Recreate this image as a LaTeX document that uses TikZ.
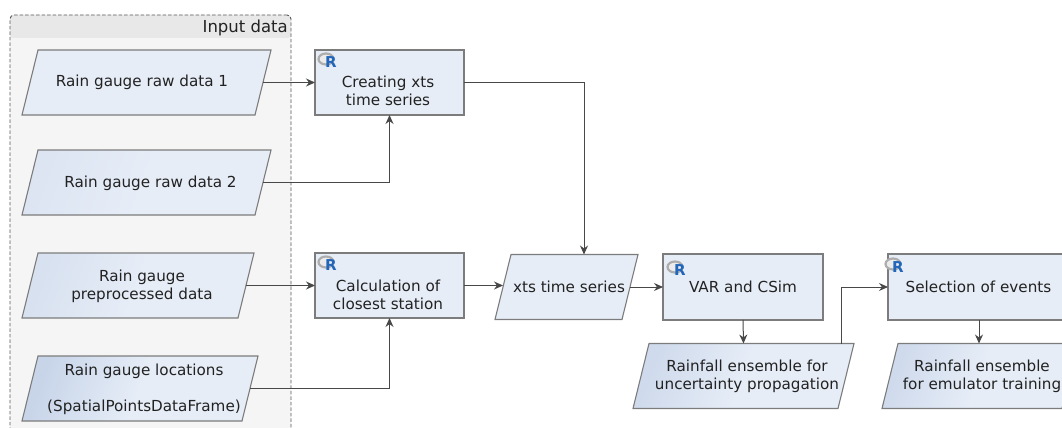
\documentclass[tikz,border=0pt]{standalone}
\usepackage{fontspec}
\setmainfont{DejaVu Sans}
\usetikzlibrary{arrows.meta,shapes.geometric}
\definecolor{shapefill}{HTML}{E6EDF7}
\definecolor{shapeline}{HTML}{7C7C7C}
\definecolor{linkline}{HTML}{484848}
\definecolor{txt}{HTML}{222222}
\definecolor{rblue}{HTML}{2166BA}
\definecolor{darkb}{HTML}{DDE5F3}
\definecolor{darkc}{HTML}{D8E1F0}
\definecolor{darkd}{HTML}{C8D5E9}
\definecolor{darkr}{HTML}{CFDAEC}
\tikzset{
  anchorbox/.style={inner sep=0pt,outer sep=0pt,draw=none,fill=none},
  label text/.style={inner sep=0pt,align=center,font=\fontsize{15.2}{18}\selectfont,text=txt},
  procbox/.style={draw=shapeline,line width=1.1pt,fill=shapefill,minimum width=149pt,minimum height=65pt,inner sep=0pt,outer sep=0pt},
  link/.style={draw=linkline,line width=1pt,-{Stealth[length=9pt,width=8pt]}},
  rring/.style={draw=black!32,line width=2.2pt,fill=black!8,inner sep=0pt,ellipse,minimum width=15pt,minimum height=11pt},
  rletter/.style={inner sep=0pt,text=rblue,font=\fontsize{15}{15}\selectfont\bfseries}
}
% name, cx, cy, mid width, text x, text y, text, dark colour
\newcommand{\paranode}[8]{%
  \pgfmathsetmacro{\hw}{#4/2}%
  \path[draw=shapeline,line width=1.1pt,left color=#8,right color=shapefill,middle color=shapefill,shading angle=70]
    (#2-\hw+8,#3-32.5) -- (#2+\hw+8,#3-32.5) -- (#2+\hw-8,#3+32.5) -- (#2-\hw-8,#3+32.5) -- cycle;
  \node[anchorbox,minimum width=#4pt,minimum height=65pt] (#1) at (#2,#3) {};
  \node[label text] (#1text) at (#5,#6) {#7};
}
% name, x, y
\newcommand{\rlogo}[3]{%
  \node[rring] (#1ring) at (#2-5,#3-3) {};
  \node[rletter] (#1letter) at (#2,#3) {R};
}
\begin{document}
\begin{tikzpicture}[x=1pt,y=-1pt]
\useasboundingbox (0,0) rectangle (1062,428);
\clip (0,0) rectangle (1062,428);
% input container
\path[fill=black!4,rounded corners=3pt] (10,15) rectangle (291,440);
\path[fill=black!9,rounded corners=3pt] (10,15) -- (291,15) -- (291,38) -- (10,38) -- cycle;
\node[anchorbox,draw=black!65,line width=0.9pt,dash pattern=on 3.5pt off 2pt,rounded corners=4pt,minimum width=281pt,minimum height=425pt,anchor=north west] (input) at (10,15) {};
\node[label text,anchor=base east,font=\fontsize{16.5}{18}\selectfont] (inputtitle) at (288,33) {Input data};
% parallelograms
\paranode{pa}{146.5}{82.5}{233}{142}{82}{Rain gauge raw data 1}{shapefill}
\paranode{pb}{146.5}{182.5}{233}{150.5}{183}{Rain gauge raw data 2}{darkb}
\paranode{pc}{138}{285.5}{216}{142}{286}{Rain gauge\\preprocessed data}{darkc}
\paranode{pd}{140}{388.5}{220}{144}{389}{Rain gauge locations\\[18pt](SpatialPointsDataFrame)}{darkd}
\paranode{xts}{566.5}{287}{127}{569}{287}{xts time series}{shapefill}
\paranode{ra}{743.5}{376}{205}{747}{376}{Rainfall ensemble for\\uncertainty propagation}{darkr}
\paranode{rb}{980}{376}{180}{982}{376}{Rainfall ensemble\\for emulator training}{darkr}
% process boxes
\node[procbox] (creat) at (389.5,82.5) {};
\node[label text] (creattext) at (388,91) {Creating xts\\time series};
\node[procbox] (calc) at (389.5,285.5) {};
\node[label text] (calctext) at (388,295) {Calculation of\\closest station};
\node[procbox,minimum width=160pt,minimum height=66pt] (var) at (743,287) {};
\node[label text] (vartext) at (743,287) {VAR and CSim};
\node[procbox,minimum width=182pt,minimum height=66pt] (sel) at (979,287) {};
\node[label text] (seltext) at (978.5,287) {Selection of events};
% R logos
\rlogo{ra}{331}{62}
\rlogo{rc}{331}{265}
\rlogo{rv}{680}{270}
\rlogo{rs}{898}{267}
% connectors
\draw[link] (pa.east) -- (creat.west);
\draw[link] (pb.east) -| (creat.south);
\draw[link] (pc.east) -- (calc.west);
\draw[link] (pd.east) -| (calc.south);
\draw[link] (creat.east) -| ([xshift=17.5pt]xts.north);
\draw[link] (calc.east) -- (calc.east -| xts.west);
\draw[link] (xts.east) -- (var.west);
\draw[link] (var.south) -- (ra.north);
\draw[link] ([xshift=97.5pt]ra.north) |- (sel.west);
\draw[link] (sel.south) -- (sel.south |- rb.north);
\end{tikzpicture}
\end{document}
